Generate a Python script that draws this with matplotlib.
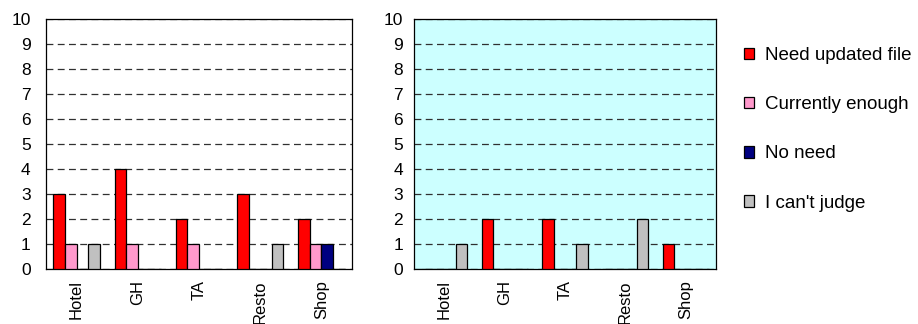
import matplotlib
matplotlib.use("Agg")
import matplotlib.pyplot as plt
import numpy as np

plt.rcParams['font.family'] = ['Liberation Sans', 'DejaVu Sans']

categories = ["Hotel", "GH", "TA", "Resto", "Shop"]
series_names = ["Need updated file", "Currently enough", "No need", "I can't judge"]
colors = ["#FF0000", "#FF99CC", "#000080", "#C0C0C0"]

left_need = [3, 4, 2, 3, 2]
left_enough = [1, 1, 1, 0, 1]
left_noneed = [0, 0, 0, 0, 1]
left_cantjudge = [1, 0, 0, 1, 0]

right_need = [0, 2, 2, 0, 1]
right_enough = [0, 0, 0, 0, 0]
right_noneed = [0, 0, 0, 0, 0]
right_cantjudge = [1, 0, 1, 2, 0]

yticks = list(range(0, 11))

fig = plt.figure(figsize=(9.18, 3.24), dpi=100)
ax1 = fig.add_axes([46/918, 55/324, 306/918, 250/324])
ax2 = fig.add_axes([414/918, 55/324, 302/918, 250/324])

x = np.arange(len(categories))
bw = 0.19
offsets = (np.arange(4) - 1.5) * bw


def draw(ax, data, bg, ypad):
    ax.set_facecolor(bg)
    handles = []
    for i, vals in enumerate(data):
        h = ax.bar(x + offsets[i], vals, width=bw, color=colors[i],
                   edgecolor="black", linewidth=0.9, label=series_names[i], zorder=3)
        handles.append(h)
    ax.set_xlim(-0.5, len(categories) - 0.5)
    ax.set_ylim(0, 10)
    ax.set_yticks(yticks)
    ax.set_yticklabels([str(t) for t in yticks], fontsize=12.5)
    ax.set_xticks(x)
    ax.set_xticklabels(categories, rotation=90, fontsize=12)
    ax.tick_params(axis='both', length=0)
    ax.tick_params(axis='x', pad=8)
    ax.tick_params(axis='y', pad=ypad)
    ax.yaxis.grid(True, color="#303030", linestyle=(0, (5.5, 3.5)), linewidth=0.9)
    ax.set_axisbelow(True)
    for s in ax.spines.values():
        s.set_color("black")
        s.set_linewidth(0.9)
    return handles


handles = draw(ax1, [left_need, left_enough, left_noneed, left_cantjudge], "white", 11)
draw(ax2, [right_need, right_enough, right_noneed, right_cantjudge], "#CCFFFF", 8)

fig.legend(handles=handles, labels=series_names, loc="upper left",
           bbox_to_anchor=(744/918, 1 - 47/324), frameon=False,
           fontsize=13.5, handlelength=0.55, handleheight=0.55,
           handletextpad=0.55, labelspacing=1.72, borderaxespad=0, borderpad=0)

fig.savefig("out.png", dpi=100)
